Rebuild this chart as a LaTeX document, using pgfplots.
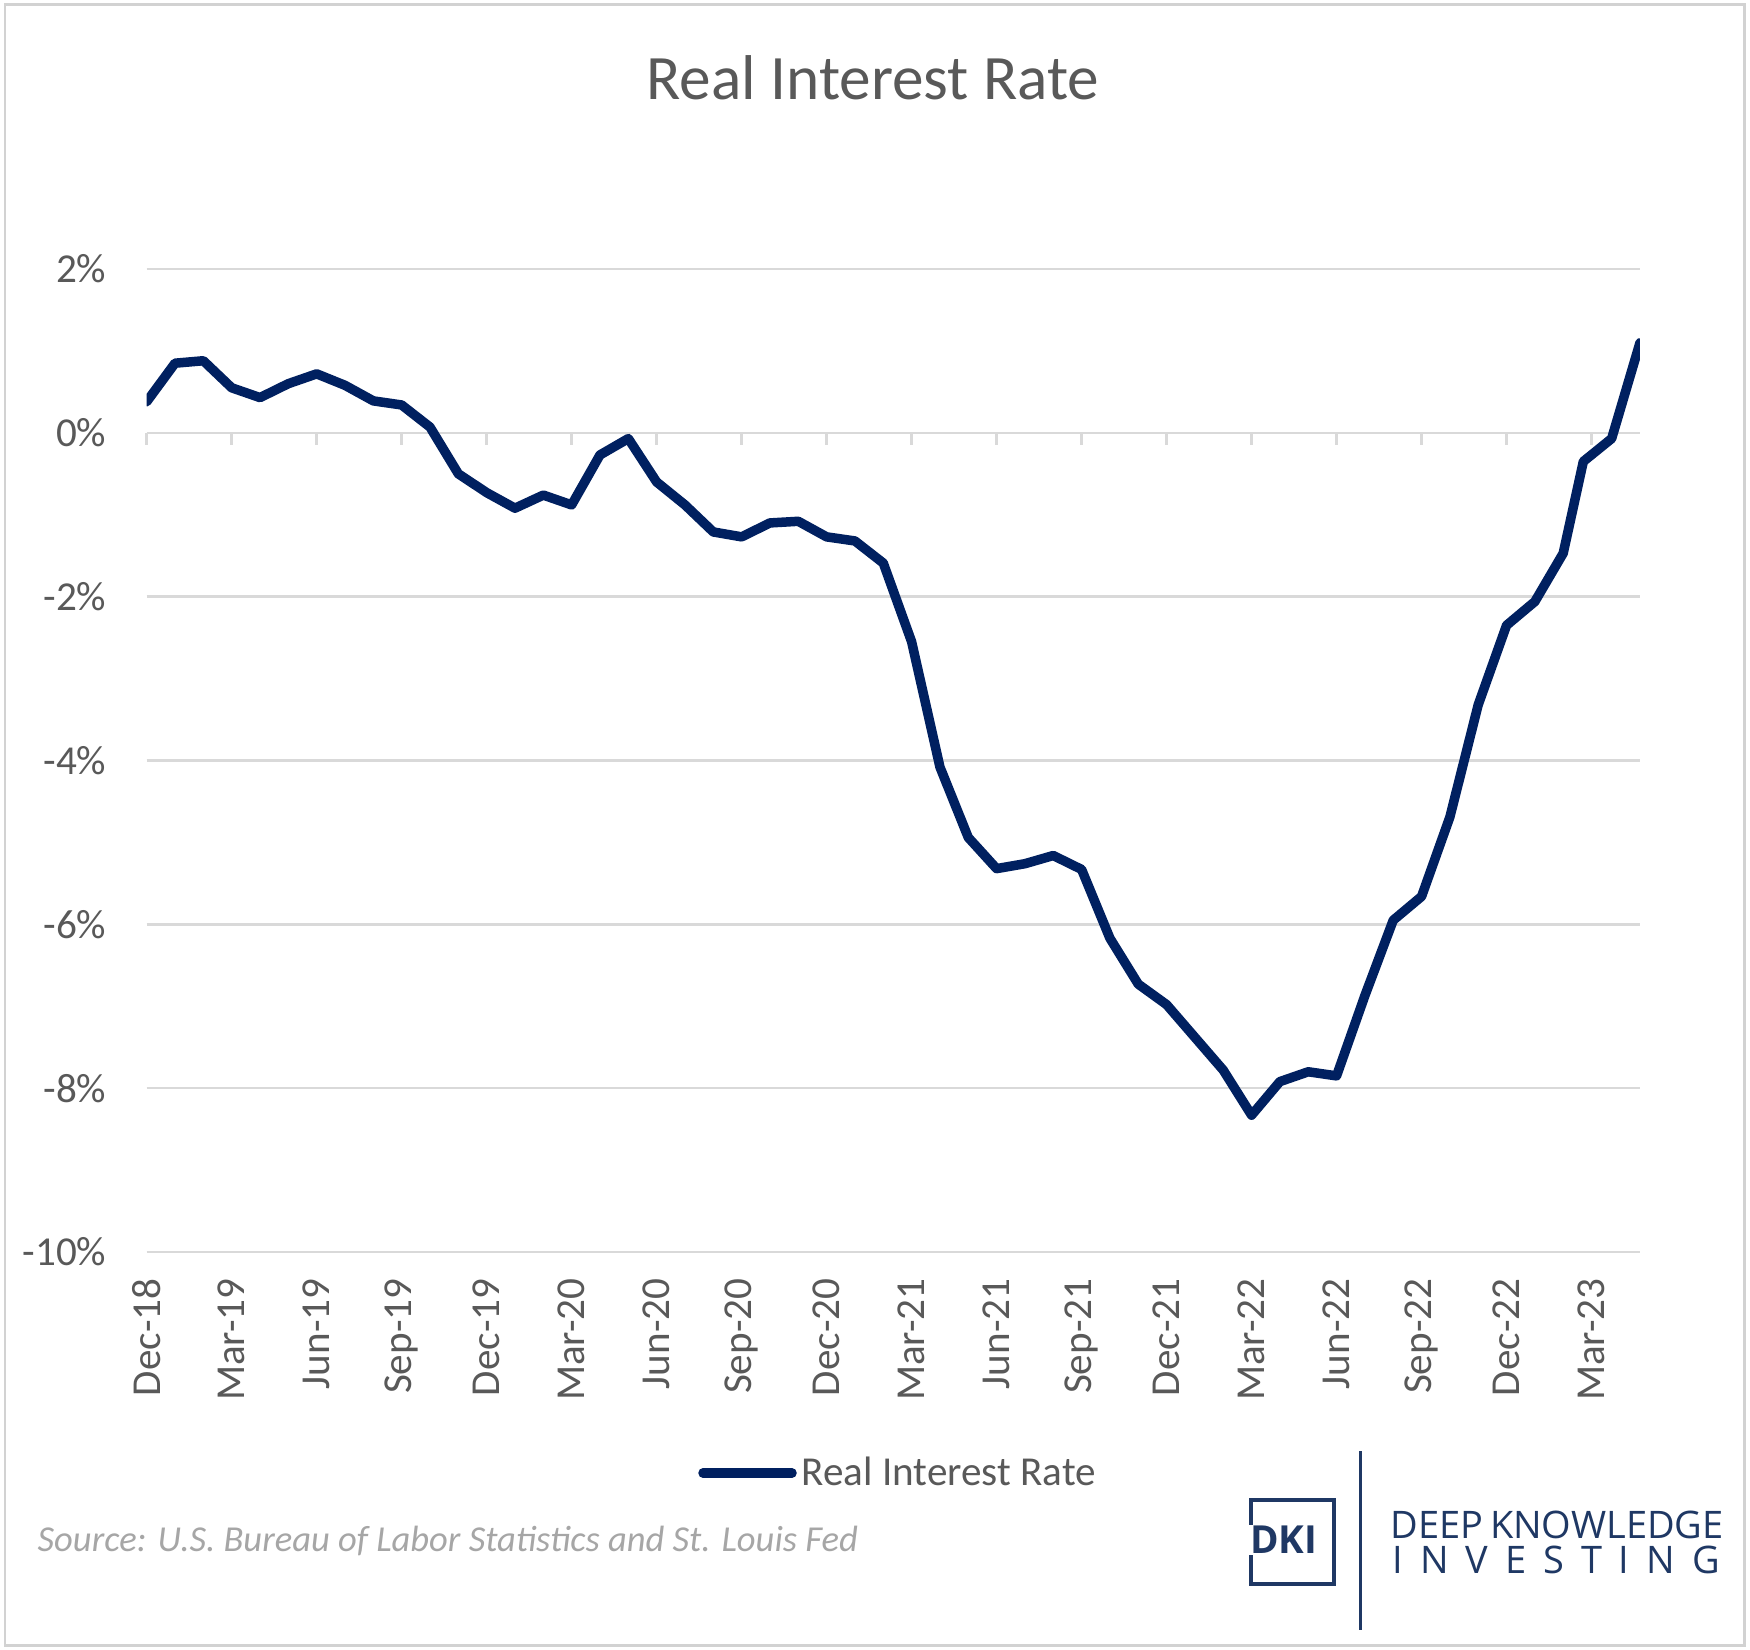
\documentclass[border=0pt]{standalone}
\usepackage{pgfplots}
\pgfplotsset{compat=1.18}
\usepackage{fontspec}
\setmainfont{Carlito}
\newfontfamily\logofont{Open Sans}
\definecolor{navy}{RGB}{0,32,96}
\definecolor{txtgray}{RGB}{89,89,89}
\definecolor{gridgray}{RGB}{217,217,217}
\definecolor{srcgray}{RGB}{166,166,166}
\definecolor{logonavy}{RGB}{31,56,100}
\definecolor{framegray}{RGB}{210,210,210}
\begin{document}
\begin{tikzpicture}
\begin{scope}[x=0.1mm,y=0.1mm]
\path[use as bounding box] (0,0) rectangle (1750,-1650);
\fill[white] (0,0) rectangle (1750,-1650);
\draw[framegray, line width=0.3mm] (5,-5) rectangle (1744,-1645);
% title
\node[anchor=base, inner sep=0pt, text=txtgray, font=\fontsize{18}{22}\selectfont] at (873,-100) {Real Interest Rate};
\end{scope}
\begin{axis}[
  at={(14.67mm,-125.2mm)}, anchor=south west,
  scale only axis, width=149.33mm, height=98.3mm,
  xmin=0, xmax=52.71, ymin=-10, ymax=2,
  axis line style={draw=none},
  major tick length=0pt,
  xtick={0,3,...,51},
  xticklabels={Dec-18,Mar-19,Jun-19,Sep-19,Dec-19,Mar-20,Jun-20,Sep-20,Dec-20,Mar-21,Jun-21,Sep-21,Dec-21,Mar-22,Jun-22,Sep-22,Dec-22,Mar-23},
  xticklabel style={rotate=90, anchor=east, inner sep=0pt, xshift=-2.6mm, text=txtgray, font=\fontsize{11.7}{14}\selectfont},
  ytick={-10,-8,-6,-4,-2,0,2},
  yticklabels={-10\%,-8\%,-6\%,-4\%,-2\%,0\%,2\%},
  yticklabel style={anchor=east, inner sep=0pt, xshift=-3.97mm, text=txtgray, font=\fontsize{11.7}{14}\selectfont},
  ymajorgrids, grid style={draw=gridgray, line width=0.25mm},
]
\addplot[navy, line width=0.95mm, line join=round, line cap=round] coordinates {
(0,0.38) (1,0.85) (2,0.88) (3,0.55) (4,0.43) (5,0.60) (6,0.72) (7,0.58) (8,0.39) (9,0.34)
(10,0.07) (11,-0.50) (12,-0.73) (13,-0.92) (14,-0.76) (15,-0.88) (16,-0.27) (17,-0.07) (18,-0.60) (19,-0.88)
(20,-1.21) (21,-1.27) (22,-1.10) (23,-1.08) (24,-1.27) (25,-1.32) (26,-1.59) (27,-2.55) (28,-4.08) (29,-4.94)
(30,-5.32) (31,-5.26) (32,-5.16) (33,-5.33) (34,-6.17) (35,-6.73) (36,-6.98) (37,-7.38) (38,-7.78) (39,-8.33)
(40,-7.92) (41,-7.80) (42,-7.85) (43,-6.87) (44,-5.95) (45,-5.66) (46,-4.69) (47,-3.32) (48,-2.35) (49,-2.06)
(50,-1.47) (50.71,-0.35) (51.71,-0.07) (52.71,1.10)
};
\end{axis}
\begin{scope}[x=0.1mm,y=0.1mm]
% x axis tick marks at 0%
\foreach \q in {0,...,17} {
  \draw[gridgray, line width=0.25mm] ({146.7+\q*84.99},-433) -- ++(0,-12);
}
% legend
\draw[navy, line width=0.95mm, line cap=round] (703,-1473) -- (792,-1473);
\node[anchor=west, inner sep=0pt, text=txtgray, font=\fontsize{11.7}{14}\selectfont] at (801,-1471) {Real Interest Rate};
% source
\node[anchor=west, inner sep=0pt, text=srcgray, font=\itshape\fontsize{10.4}{12}\selectfont] at (37,-1541) {Source: U.S. Bureau of Labor Statistics and St. Louis Fed};
% logo
\draw[logonavy, line width=0.35mm] (1251,-1500) rectangle (1334,-1584);
\node[anchor=west, inner sep=0.4pt, fill=white, text=logonavy, font=\logofont\bfseries\fontsize{11}{13}\selectfont] at (1248,-1540) {DKI};
\draw[logonavy, line width=0.3mm] (1360,-1451) -- (1360,-1630);
\node[anchor=base west, inner sep=0pt, text=logonavy, font=\logofont\fontsize{10.8}{12}\selectfont] at (1390,-1538) {\makebox[32.9mm][s]{DEEP KNOWLEDGE}};
\node[anchor=base west, inner sep=0pt, text=logonavy, font=\logofont\fontsize{10.8}{12}\selectfont] at (1392,-1573) {\makebox[32.7mm][s]{I\hfill N\hfill V\hfill E\hfill S\hfill T\hfill I\hfill N\hfill G}};
\end{scope}
\end{tikzpicture}
\end{document}
